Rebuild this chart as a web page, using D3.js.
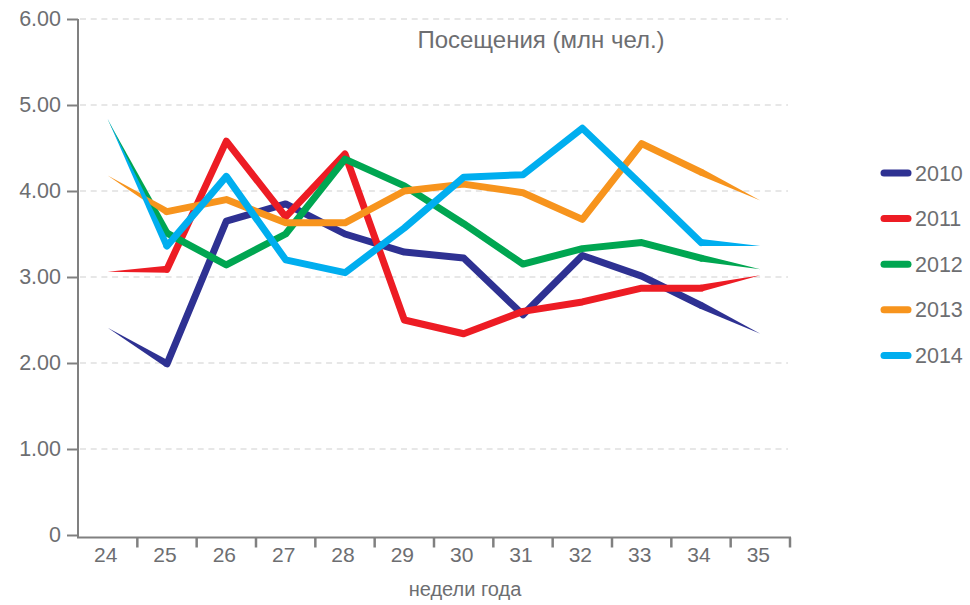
<!DOCTYPE html>
<html>
<head>
<meta charset="utf-8">
<script src="https://cdn.jsdelivr.net/npm/d3@7"></script>
<style>
  body { margin: 0; background: #fff; }
  text { font-family: "Liberation Sans", Arial, sans-serif; fill: #6d6e71; }
</style>
</head>
<body>
<div id="root"></div>
<script>
var config = {
  chartWidth: 970,
  chartHeight: 605
};

const weeks = [24, 25, 26, 27, 28, 29, 30, 31, 32, 33, 34, 35];
const years = ['2010', '2011', '2012', '2013', '2014'];
const colors = ['#2e3192', '#ed1c24', '#00a651', '#f7941d', '#00aeef'];
const yTicks = [0, 1, 2, 3, 4, 5, 6];

const v2010 = [2.41, 1.99, 3.65, 3.85, 3.50, 3.29, 3.22, 2.56, 3.25, 3.01, 2.67, 2.34];
const v2011 = [3.06, 3.09, 4.58, 3.70, 4.43, 2.50, 2.34, 2.60, 2.71, 2.87, 2.87, 3.02];
const v2012 = [4.83, 3.51, 3.14, 3.50, 4.37, 4.06, 3.62, 3.15, 3.33, 3.40, 3.22, 3.09];
const v2013 = [4.18, 3.76, 3.90, 3.63, 3.63, 4.00, 4.08, 3.98, 3.67, 4.55, 4.22, 3.89];
const v2014 = [4.84, 3.36, 4.17, 3.20, 3.05, 3.57, 4.16, 4.19, 4.73, 4.07, 3.40, 3.36];
const series = [v2010, v2011, v2012, v2013, v2014];

const chart = d3.select('#root')
  .append('svg:svg')
  .attr('width', config.chartWidth)
  .attr('height', config.chartHeight);

const x = d3.scaleBand().domain(weeks).range([78, 790]).paddingInner(0).paddingOuter(0);
const y = d3.scaleLinear().domain([0, 6]).range([535, 19]);
const bw = x.bandwidth();
const cx = w => x(w) + bw / 2;

// Gridlines
chart.append('svg:g')
  .selectAll('line')
  .data(yTicks.filter(d => d > 0))
  .enter()
    .append('svg:line')
    .attr('x1', 80)
    .attr('x2', 788)
    .attr('y1', d => y(d))
    .attr('y2', d => y(d))
    .attr('stroke', '#cfcfcf')
    .attr('stroke-width', 1)
    .attr('stroke-dasharray', '6,4.7');

// Y axis
const yAxis = chart.append('svg:g')
  .attr('transform', 'translate(78,0)')
  .call(d3.axisLeft(y).tickValues(yTicks).tickSize(11).tickSizeOuter(0)
    .tickFormat(d => d === 0 ? '0' : d3.format('.2f')(d)));
yAxis.select('.domain').attr('stroke', '#808080').attr('stroke-width', 2).attr('d', 'M0,19V538');
yAxis.selectAll('.tick line').attr('stroke', '#808080').attr('stroke-width', 2);
yAxis.selectAll('.tick text')
  .attr('x', -17)
  .style('font-size', '21.5px')
  .style('fill', '#6d6e71');

// X axis
const xAxis = chart.append('svg:g')
  .attr('transform', 'translate(0,537.5)')
  .call(d3.axisBottom(x).tickSize(10).tickSizeOuter(0));
xAxis.select('.domain').attr('stroke', '#808080').attr('stroke-width', 2).attr('d', 'M77,0H791');
xAxis.selectAll('.tick line')
  .attr('x1', bw / 2).attr('x2', bw / 2)
  .attr('stroke', '#808080').attr('stroke-width', 2.5);
xAxis.selectAll('.tick text')
  .attr('y', 10)
  .attr('dx', -2)
  .style('font-size', '21px')
  .style('fill', '#6d6e71');

// Lines: tapered first and last segments, thick middle
const lineW = 7;
function taper(thin, wide, w) {
  const dx = wide[0] - thin[0], dy = wide[1] - thin[1];
  const len = Math.sqrt(dx * dx + dy * dy);
  const nx = -dy / len * w / 2, ny = dx / len * w / 2;
  return [thin, [wide[0] + nx, wide[1] + ny], [wide[0] - nx, wide[1] - ny]];
}

const layer = chart.append('svg:g');
series.forEach((vals, i) => {
  const pts = vals.map((v, j) => [cx(weeks[j]), y(v)]);
  const g = layer.append('svg:g');
  g.append('svg:path')
    .attr('d', d3.line()(taper(pts[0], pts[1], lineW)) + 'Z')
    .attr('fill', colors[i]);
  g.append('svg:path')
    .attr('d', d3.line()(taper(pts[pts.length - 1], pts[pts.length - 2], lineW)) + 'Z')
    .attr('fill', colors[i]);
  g.append('svg:path')
    .attr('d', d3.line()(pts.slice(1, pts.length - 1)))
    .attr('fill', 'none')
    .attr('stroke', colors[i])
    .attr('stroke-width', lineW)
    .attr('stroke-linejoin', 'round')
    .attr('stroke-linecap', 'round');
});

// Title
chart.append('svg:text')
  .attr('x', 541)
  .attr('y', 48)
  .attr('text-anchor', 'middle')
  .style('font-size', '24px')
  .text('Посещения (млн чел.)');

chart.append('svg:text')
  .attr('x', 465)
  .attr('y', 596)
  .attr('text-anchor', 'middle')
  .style('font-size', '20px')
  .text('недели года');

// Legend
const legend = chart.append('svg:g')
  .selectAll('g')
  .data(years)
  .enter()
    .append('svg:g')
    .attr('transform', (d, i) => `translate(0,${173 + i * 45.6})`);
legend.append('svg:line')
  .attr('x1', 884).attr('x2', 908)
  .attr('stroke', (d, i) => colors[i])
  .attr('stroke-width', 7)
  .attr('stroke-linecap', 'round');
legend.append('svg:text')
  .attr('x', 915)
  .attr('y', 7.5)
  .style('font-size', '21.5px')
  .text(d => d);
</script>
</body>
</html>
